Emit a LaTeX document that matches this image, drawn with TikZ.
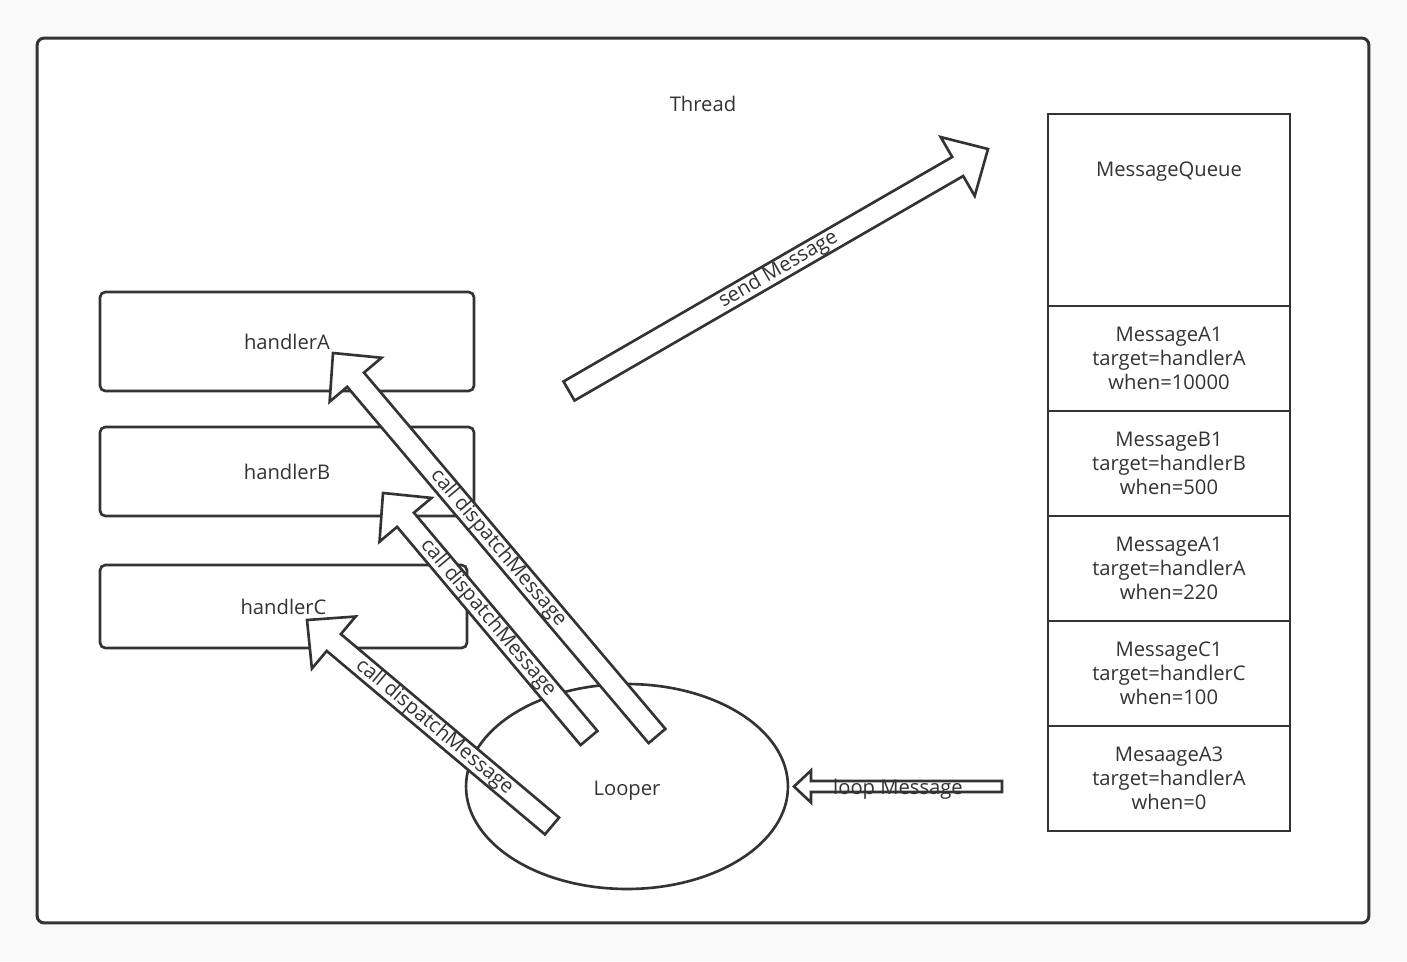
\documentclass[tikz,border=0pt]{standalone}
\usepackage{fontspec}
\setmainfont{Open Sans}
\usetikzlibrary{calc, positioning, shapes.geometric}
\definecolor{ink}{HTML}{333333}
\definecolor{paper}{HTML}{F9F9F9}

% hollow block arrow: from, to, shaft half width, head half width, head length
\newcommand{\blockarrow}[5]{%
  \coordinate (neck) at ($(#2)!#5!(#1)$);
  \draw[barrow] ($(#1)!#3!90:(#2)$) -- ($(neck)!#3!90:(#2)$) -- ($(neck)!#4!90:(#2)$) -- (#2)
    -- ($(neck)!#4!-90:(#2)$) -- ($(neck)!#3!-90:(#2)$) -- ($(#1)!#3!-90:(#2)$) -- cycle;
}

\begin{document}
\begin{tikzpicture}[x=0.02cm, y=-0.02cm,
    every node/.style={font=\fontsize{11.5pt}{13.6pt}\selectfont, text=ink, align=center, inner sep=0pt},
    frame/.style={draw=ink, line width=1.7pt, rounded corners=4pt, fill=white, minimum width=26.64cm, minimum height=17.7cm},
    hbox/.style={draw=ink, line width=1.5pt, rounded corners=3pt, fill=white},
    cell/.style={draw=ink, line width=1.5pt, fill=white, minimum width=4.84cm, minimum height=2.1cm, outer sep=0pt},
    barrow/.style={draw=ink, line width=1.5pt, fill=white, line join=miter},
    lbl/.style={sloped}
]
\fill[paper] (0,0) rectangle (1407,961);
\useasboundingbox (0,0) rectangle (1407,961);
% thread frame
\node[frame] (thread) at (703,480.5) {};
\node (thr) at (703,104) {Thread};
% handlers
\node[hbox, minimum width=7.48cm, minimum height=1.98cm] (hA) at (287,341.5) {handlerA};
\node[hbox, minimum width=7.48cm, minimum height=1.78cm] (hB) at (287,471.5) {handlerB};
\node[hbox, minimum width=7.34cm, minimum height=1.66cm] (hC) at (283.5,606.5) {handlerC};
% looper
\node[draw=ink, ellipse, line width=1.5pt, fill=white, minimum width=6.44cm, minimum height=4.1cm] (looper) at (627,786.5) {\raisebox{-0.09cm}[\height][\depth]{Looper}};
% message queue
\node[cell, minimum height=3.84cm] (mq) at (1169,210) {};
\node (mqt) at ([yshift=-1.15cm]mq.north) {MessageQueue};
\node[cell] (m1) at (1169,358.5) {MessageA1\\target=handlerA\\when=10000};
\node[cell] (m2) at (1169,463.5) {MessageB1\\target=handlerB\\when=500};
\node[cell] (m3) at (1169,568.5) {MessageA1\\target=handlerA\\when=220};
\node[cell] (m4) at (1169,673.5) {MessageC1\\target=handlerC\\when=100};
\node[cell] (m5) at (1169,778.5) {MesaageA3\\target=handlerA\\when=0};
% arrow ends
\coordinate (sendS) at (569,391);
\coordinate (sendE) at (988,149);
\coordinate (dA) at (657,736);
\coordinate (dAE) at (333,353);
\coordinate (dB) at (589,738);
\coordinate (dBE) at (383,493);
\coordinate (dC) at (552,826);
\coordinate (dCE) at (307,620);
\coordinate (loopS) at (1002,786.5);
\coordinate (loopE) at (794,786.5);
% arrows
\blockarrow{sendS}{sendE}{0.22cm}{0.68cm}{0.70cm}
\blockarrow{dA}{dAE}{0.22cm}{0.68cm}{0.70cm}
\blockarrow{dB}{dBE}{0.22cm}{0.68cm}{0.70cm}
\blockarrow{dC}{dCE}{0.22cm}{0.68cm}{0.70cm}
\blockarrow{loopS}{loopE}{0.11cm}{0.32cm}{0.34cm}
% labels
\path (sendS) -- node[lbl, pos=0.5] (sendL) {send Message} (sendE);
\path (dA) -- node[lbl, pos=0.49] (dAL) {call dispatchMessage} (dAE);
\path (dB) -- node[lbl, pos=0.49] (dBL) {call dispatchMessage} (dBE);
\path (dC) -- node[lbl, pos=0.48] (dCL) {call dispatchMessage} (dCE);
\path (loopS) -- node[pos=0.50, yshift=-0.06cm] (loopL) {loop Message} (loopE);
\end{tikzpicture}
\end{document}
